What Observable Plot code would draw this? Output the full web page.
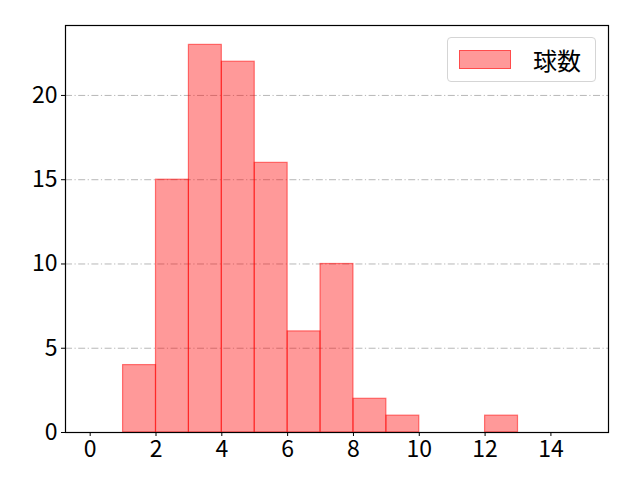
<!DOCTYPE html>
<html>
<head>
<meta charset="utf-8">
<script src="https://cdn.jsdelivr.net/npm/d3@7"></script>
<script src="https://cdn.jsdelivr.net/npm/@observablehq/plot@0.6"></script>
<style>
  html, body { margin: 0; padding: 0; background: #fff; }
  #wrap { position: relative; width: 640px; height: 480px; font-family: "Noto Sans CJK JP", "DejaVu Sans", sans-serif; }
  #legend { position: absolute; left: 447px; top: 37px; width: 149px; height: 45px; box-sizing: border-box;
    border: 1px solid #d5d5d5; border-radius: 4px; background: rgba(255,255,255,0.8); }
  #legend .patch { position: absolute; left: 11px; top: 12px; width: 52px; height: 19px; background: rgba(255,0,0,0.4); border: 1px solid rgba(255,0,0,0.5); box-sizing: border-box; }
  #legend .label { position: absolute; left: 85px; top: 0px; line-height: 43px; font-size: 24px; color: #000; }
</style>
</head>
<body>
<div id="wrap"></div>
<script>
const binStart = [1, 2, 3, 4, 5, 6, 7, 8, 9, 12];
const binEnd   = [2, 3, 4, 5, 6, 7, 8, 9, 10, 13];
const counts   = [4, 15, 23, 22, 16, 6, 10, 2, 1, 1];
const xTicks = [0, 2, 4, 6, 8, 10, 12, 14];
const yTicks = [0, 5, 10, 15, 20];
const gridLines = [5, 10, 15, 20];
const seriesName = "球数";

const data = binStart.map((s, i) => ({x1: s, x2: binEnd[i], y: counts[i]}));

const chart = Plot.plot({
  width: 640,
  height: 480,
  marginLeft: 65,
  marginRight: 32,
  marginTop: 25,
  marginBottom: 48,
  style: {fontFamily: "'Noto Sans CJK JP', 'DejaVu Sans', sans-serif", fontSize: "23px", color: "#000", background: "#fff"},
  x: {domain: [-0.75, 15.75], ticks: xTicks, tickSize: 4, tickPadding: 4, tickFormat: d => String(d), label: null},
  y: {domain: [0, 24.15], ticks: yTicks, tickSize: 4, tickPadding: 4, tickFormat: d => String(d), label: null},
  marks: [
    Plot.ruleY(gridLines, {stroke: "#b0b0b0", strokeWidth: 0.9, strokeDasharray: "7,2.5,1.2,2.5"}),
    Plot.rectY(data, {x1: "x1", x2: "x2", y: "y", fill: "red", fillOpacity: 0.4, stroke: "red", strokeOpacity: 0.5, strokeWidth: 1.2, inset: 0}),
    Plot.frame({stroke: "#000", strokeWidth: 1.2})
  ]
});
const wrap = document.getElementById("wrap");
wrap.appendChild(chart);
const legend = document.createElement("div");
legend.id = "legend";
legend.innerHTML = `<div class="patch"></div><div class="label">${seriesName}</div>`;
wrap.appendChild(legend);
</script>
</body>
</html>
